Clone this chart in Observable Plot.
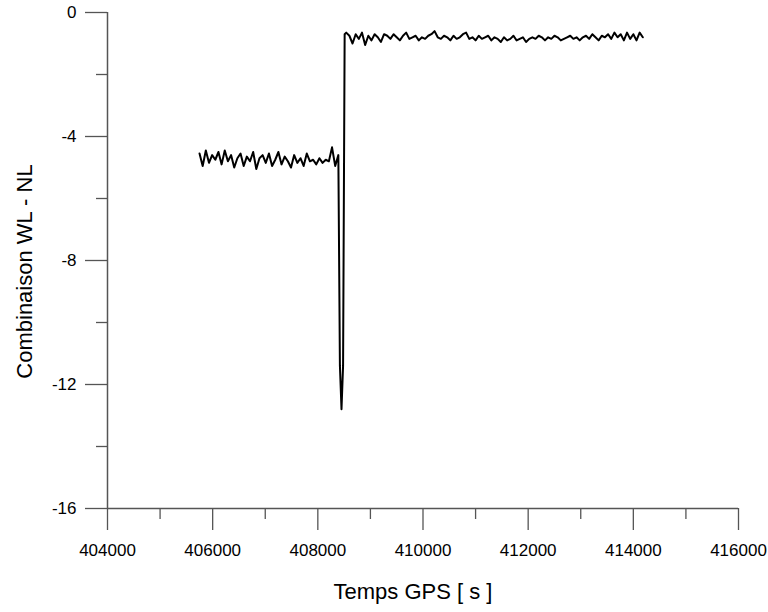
<!DOCTYPE html>
<html>
<head>
<meta charset="utf-8">
<script src="https://cdn.jsdelivr.net/npm/d3@7"></script>
<script src="https://cdn.jsdelivr.net/npm/@observablehq/plot@0.6"></script>
<style>
  html, body { margin: 0; padding: 0; background: #fff; }
  #chart svg { font-family: "Liberation Sans", Arial, sans-serif; }
</style>
</head>
<body>
<div id="chart"></div>
<script>
// ---- data ----
const seg1Start = 405750, seg1Step = 60;
const seg1Values = [-4.55,-4.95,-4.45,-4.85,-4.6,-4.75,-4.5,-4.9,-4.45,-4.8,-4.6,-5.0,-4.7,-4.55,-4.95,-4.65,-4.8,-4.5,-5.05,-4.7,-4.6,-4.85,-4.55,-4.95,-4.75,-4.5,-4.9,-4.65,-4.8,-5.0,-4.6,-4.85,-4.7,-4.95,-4.55,-4.8,-4.75,-4.9,-4.7,-4.85,-4.75,-4.8,-4.35,-4.95,-4.6];
const jumpTimes = [408420, 408450, 408480, 408510];
const jumpValues = [-11.4, -12.8, -11.4, -0.7];
const seg2Start = 408540, seg2Step = 60;
const seg2Values = [
  -0.65,-0.75,-1.0,-0.7,-0.85,-0.65,-1.05,-0.75,-0.9,-0.7,-0.8,-0.95,-0.7,-0.75,-0.85,
  -0.7,-0.8,-0.9,-0.75,-0.65,-0.85,-0.8,-0.75,-0.9,-0.8,-0.85,-0.75,-0.7,-0.6,-0.8,
  -0.85,-0.75,-0.8,-0.9,-0.75,-0.85,-0.8,-0.7,-0.65,-0.85,-0.8,-0.9,-0.75,-0.85,-0.8,
  -0.75,-0.9,-0.8,-0.85,-0.95,-0.8,-0.9,-0.85,-0.75,-0.9,-0.85,-0.8,-0.95,-0.85,-0.8,
  -0.85,-0.75,-0.8,-0.9,-0.8,-0.85,-0.75,-0.8,-0.9,-0.85,-0.8,-0.75,-0.85,-0.8,-0.9,
  -0.8,-0.75,-0.85,-0.7,-0.8,-0.9,-0.75,-0.8,-0.7,-0.85,-0.65,-0.8,-0.7,-0.9,-0.65,
  -0.85,-0.7,-0.9,-0.65,-0.8
];
const xMajorTicks = [404000, 406000, 408000, 410000, 412000, 414000, 416000];
const xMinorTicks = [405000, 407000, 409000, 411000, 413000, 415000];
const yMajorTicks = [0, -4, -8, -12, -16];
const yMinorTicks = [-2, -6, -10, -14];
const xTitle = "Temps GPS [ s ]";
const yTitle = "Combinaison WL - NL";

// build table
const data = [];
seg1Values.forEach((v, i) => data.push({t: seg1Start + i * seg1Step, v}));
jumpTimes.forEach((t, i) => data.push({t, v: jumpValues[i]}));
seg2Values.forEach((v, i) => data.push({t: seg2Start + i * seg2Step, v}));

const axisColor = "#555";
const chart = Plot.plot({
  width: 768,
  height: 612,
  marginLeft: 107,
  marginRight: 30,
  marginTop: 12,
  marginBottom: 104,
  x: {domain: [404000, 416000]},
  y: {domain: [-16, 0]},
  marks: [
    Plot.axisX({ticks: xMajorTicks, tickSize: 22, tickPadding: 13, tickFormat: d => String(d), fontSize: 17, label: null, stroke: axisColor, strokeWidth: 1.3, fill: "#000"}),
    Plot.axisX({ticks: xMinorTicks, tickSize: 11, text: null, label: null, stroke: axisColor, strokeWidth: 1.3}),
    Plot.axisY({ticks: yMajorTicks, tickSize: 22, tickPadding: 9, tickFormat: d => String(d), fontSize: 17, label: null, stroke: axisColor, strokeWidth: 1.3, fill: "#000"}),
    Plot.axisY({ticks: yMinorTicks, tickSize: 11, text: null, label: null, stroke: axisColor, strokeWidth: 1.3}),
    Plot.ruleX([404000], {stroke: axisColor, strokeWidth: 1.5}),
    Plot.ruleY([-16], {stroke: axisColor, strokeWidth: 1.5}),
    Plot.line(data, {x: "t", y: "v", stroke: "#000", strokeWidth: 2}),
    Plot.text([xTitle], {frameAnchor: "bottom", textAnchor: "middle", lineAnchor: "middle", dx: -10, dy: 83, fontSize: 22, fill: "#000"}),
    Plot.text([yTitle], {frameAnchor: "left", textAnchor: "middle", lineAnchor: "middle", dx: -83, dy: 11, rotate: -90, fontSize: 22, fill: "#000"})
  ]
});
document.getElementById("chart").appendChild(chart);
</script>
</body>
</html>
